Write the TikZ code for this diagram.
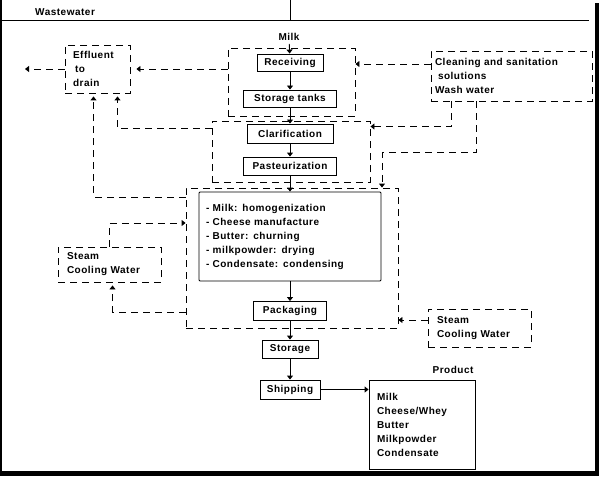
\documentclass[tikz,border=0pt]{standalone}
\usepackage{fontspec}
\setmainfont{Liberation Sans}[LetterSpace=5]
\usetikzlibrary{positioning,arrows.meta,calc}

\begin{document}
\begin{tikzpicture}[x=1pt, y=-1pt,
		font=\fontsize{10}{14}\selectfont\bfseries,
		box/.style={draw, line width=0.9pt, inner sep=0pt},
		grp/.style={draw, line width=0.9pt, dash pattern=on 7pt off 5pt,
				inner sep=0pt},
		note/.style={grp, align=left},
		arr/.style={-{Triangle[length=4pt,width=6pt]}, line width=0.9pt},
		dsh/.style={arr, dash pattern=on 7pt off 5pt}
		]
		\useasboundingbox (0,0) rectangle (599,476);
		\fill (0,0) rectangle (2,476);
		\fill (595,3) rectangle (599,476);
		\fill (0,471) rectangle (599,476);
		\draw[line width=0.9pt] (2,20) -- (589,20);
		\draw[line width=0.9pt] (290,0) -- (290,20);
		\node[anchor=west, inner sep=0pt] (ww) at (35,12) {Wastewater};
		\node[inner sep=0pt] (milk) at (289,37) {Milk};
		% dashed groups
		\node[grp, minimum width=127pt, minimum height=68pt] (recgrp) at (291.5,82) {};
		\node[grp, minimum width=158pt, minimum height=61pt] (clargrp) at (291,151.5) {};
		\node[grp, minimum width=212pt, minimum height=140pt] (procgrp) at (292,258) {};
		% process steps
		\node[box, minimum width=66pt, minimum height=17pt] (rec) at (290,62.5) {Receiving};
		\node[box, minimum width=93pt, minimum height=17pt] (tanks) at (290,98.5) {Storage tanks};
		\node[box, minimum width=86pt, minimum height=19pt] (clar) at (290,133.5) {Clarification};
		\node[box, minimum width=93pt, minimum height=18pt] (past) at (290,166) {Pasteurization};
		\node[box, rounded corners=1pt, minimum width=182pt, minimum height=89pt,
			inner xsep=7pt, text width=168pt, align=left] (proc) at (290,236.5)
		{- Milk: homogenization\\
			- Cheese manufacture\\
			- Butter: churning\\
			- milkpowder: drying\\
			- Condensate: condensing};
		\node[box, minimum width=73pt, minimum height=19pt] (pack) at (290,311) {Packaging};
		\node[box, minimum width=56pt, minimum height=18pt] (stor) at (290,349) {Storage};
		\node[box, minimum width=60pt, minimum height=19pt] (ship) at (290,389.5) {Shipping};
		\node[box, minimum width=106pt, minimum height=89pt, inner xsep=8pt,
			text width=90pt, align=left] (prod) at (422,424.5)
		{Milk\\ Cheese/Whey\\ Butter\\ Milkpowder\\ Condensate};
		\node[inner sep=0pt] (prodlbl) at (453,370) {Product};
		% side inputs and outputs
		\node[note, minimum width=65pt, minimum height=48pt, inner xsep=8pt,
			text width=49pt] (effl) at (97.5,69)
		{Effluent\\ \hspace*{2pt}to\\ drain};
		\node[note, minimum width=161pt, minimum height=50pt, inner xsep=4pt,
			text width=153pt] (clean) at (511.5,76)
		{Cleaning and sanitation\\ \hspace*{3pt}solutions\\ Wash water};
		\node[note, minimum width=103pt, minimum height=35pt, inner xsep=9pt,
			text width=85pt] (steamL) at (109.5,264.5) {Steam\\ Cooling Water};
		\node[note, minimum width=103pt, minimum height=38pt, inner xsep=9pt,
			text width=85pt] (steamR) at (479.5,328) {Steam\\ Cooling Water};
		\coordinate (out) at (25,69);
		% main flow
		\draw[arr, shorten <=3pt] (milk) -- (rec);
		\draw[arr] (rec) -- (tanks);
		\draw[arr] (tanks) -- (clar);
		\draw[arr] (clar) -- (past);
		\draw[arr] (past) -- (proc);
		\draw[arr] (proc) -- (pack);
		\draw[arr] (pack) -- (stor);
		\draw[arr] (stor) -- (ship);
		\draw[arr, line width=1.6pt] (ship.east) -- (ship.east -| prod.west);
		% wastewater and utilities
		\draw[dsh] (effl.west) -- (out);
		\draw[dsh, shorten >=6pt] (recgrp.west |- effl) -- (effl.east);
		\draw[dsh] ([yshift=12pt]clean.west) -- ([yshift=12pt]clean.west -| recgrp.east);
		\draw[dsh] ([xshift=-60pt]clean.south) |- ([yshift=25pt]clargrp.east);
		\draw[dsh] ([xshift=-35pt]clean.south) -- ++(0,51) -| ([xshift=90pt]procgrp.north);
		\draw[dsh, shorten >=3pt] ([yshift=23pt]clargrp.west) -| ([xshift=20pt]effl.south);
		\draw[dsh, shorten >=3pt] ([yshift=61pt]procgrp.west) -| ([xshift=-4pt]effl.south);
		\draw[dsh] (steamL.north) |- ([yshift=35pt]procgrp.west);
		\draw[dsh, shorten >=3pt] ([yshift=-54pt]procgrp.west) -| ([xshift=3pt]steamL.south);
		\draw[dsh] ([yshift=8pt]steamR.west) -- ([yshift=8pt]steamR.west -| procgrp.east);
	\end{tikzpicture}
\end{document}
